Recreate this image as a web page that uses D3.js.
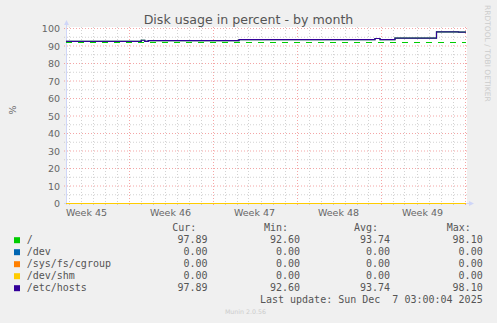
<!DOCTYPE html>
<html>
<head>
<meta charset="utf-8">
<script src="https://cdn.jsdelivr.net/npm/d3@7"></script>
<style>
  body { margin: 0; background: #F0F0F0; }
  text { font-family: "DejaVu Sans", sans-serif; }
  .mono { font-family: "DejaVu Sans Mono", monospace; white-space: pre; }
</style>
</head>
<body>
<div id="chart"></div>
<script>
const W = 497, H = 323;
const plot = { left: 66, right: 466, top: 28, bottom: 203 };

// data
const changeTimes = ["2025-11-03T19:00Z", "2025-11-10T01:30Z", "2025-11-10T08:30Z", "2025-11-10T15:30Z",
    "2025-11-18T05:00Z", "2025-11-29T13:00Z", "2025-11-29T23:00Z", "2025-12-01T05:00Z",
    "2025-12-04T16:00Z", "2025-12-06T12:00Z", "2025-12-07T03:00Z"];
const rootValues = [92.6, 93.3, 92.7, 93.1, 93.7, 94.3, 93.7, 94.5, 98.1, 97.9, 97.9];
const devValues = [0, 0, 0, 0, 0, 0, 0, 0, 0, 0, 0];
const cgroupValues = [0, 0, 0, 0, 0, 0, 0, 0, 0, 0, 0];
const shmValues = [0, 0, 0, 0, 0, 0, 0, 0, 0, 0, 0];
const hostsValues = [92.6, 93.3, 92.7, 93.1, 93.7, 94.3, 93.7, 94.5, 98.1, 97.9, 97.9];
const warningLevel = 92;

const yTicks = [0, 10, 20, 30, 40, 50, 60, 70, 80, 90, 100];
const weekLabels = ["Week 45", "Week 46", "Week 47", "Week 48", "Week 49"];
const weekStarts = ["2025-11-02T00:00Z", "2025-11-09T00:00Z", "2025-11-16T00:00Z", "2025-11-23T00:00Z", "2025-11-30T00:00Z"];

const legendLabels = ["/", "/dev", "/sys/fs/cgroup", "/dev/shm", "/etc/hosts"];
const legendColors = ["#00CC00", "#0066B3", "#FF8000", "#FFCC00", "#330099"];
const curVals = ["97.89", "0.00", "0.00", "0.00", "97.89"];
const minVals = ["92.60", "0.00", "0.00", "0.00", "92.60"];
const avgVals = ["93.74", "0.00", "0.00", "0.00", "93.74"];
const maxVals = ["98.10", "0.00", "0.00", "0.00", "98.10"];

const svg = d3.select("#chart").append("svg")
    .attr("width", W).attr("height", H);

svg.append("rect").attr("width", W).attr("height", H).attr("fill", "#F0F0F0");
svg.append("rect")
    .attr("x", plot.left).attr("y", plot.top - 1)
    .attr("width", plot.right - plot.left + 1).attr("height", plot.bottom - plot.top + 1)
    .attr("fill", "#FFFFFF");

const x = d3.scaleUtc()
    .domain([new Date("2025-11-03T19:00Z"), new Date("2025-12-07T03:00Z")])
    .range([plot.left, plot.right]);
const y = d3.scaleLinear().domain([0, 100]).range([plot.bottom, plot.top]);

const minorStyle = sel => sel.attr("stroke", "#b4b4b4").attr("stroke-opacity", 0.6).attr("stroke-dasharray", "1,2");
const majorStyle = sel => sel.attr("stroke", "#f08080").attr("stroke-opacity", 0.7).attr("stroke-dasharray", "1,2");

// minor grid
const g = svg.append("g");
d3.range(5, 100, 10).forEach(v => {
    g.append("line").attr("x1", plot.left - 2).attr("x2", plot.right + 2)
        .attr("y1", y(v) + 0.5).attr("y2", y(v) + 0.5).call(minorStyle);
});
d3.utcDay.range(x.domain()[0], x.domain()[1]).forEach(d => {
    if (d.getUTCDay() === 0) return;
    g.append("line").attr("x1", Math.round(x(d)) + 0.5).attr("x2", Math.round(x(d)) + 0.5)
        .attr("y1", plot.top - 1).attr("y2", plot.bottom + 2).call(minorStyle);
});
// major grid
yTicks.forEach(v => {
    g.append("line").attr("x1", plot.left - 2).attr("x2", plot.right + 2)
        .attr("y1", y(v) + 0.5).attr("y2", y(v) + 0.5).call(majorStyle);
});
d3.utcSunday.range(x.domain()[0], x.domain()[1]).forEach(d => {
    g.append("line").attr("x1", Math.round(x(d)) + 0.5).attr("x2", Math.round(x(d)) + 0.5)
        .attr("y1", plot.top - 1).attr("y2", plot.bottom + 3).call(majorStyle);
});

// axes
svg.append("line").attr("x1", plot.left + 0.5).attr("x2", plot.left + 0.5)
    .attr("y1", plot.bottom + 2).attr("y2", plot.top - 4).attr("stroke", "#CFD6F8");
svg.append("path").attr("d", `M${plot.left - 2},${plot.top - 3}L${plot.left + 0.5},${plot.top - 8}L${plot.left + 3},${plot.top - 3}Z`)
    .attr("fill", "#CFD6F8");
svg.append("line").attr("x1", plot.left - 2).attr("x2", plot.right + 4)
    .attr("y1", plot.bottom + 0.5).attr("y2", plot.bottom + 0.5).attr("stroke", "#CFD6F8");
svg.append("path").attr("d", `M${plot.right + 3},${plot.bottom - 2}L${plot.right + 8},${plot.bottom + 0.5}L${plot.right + 3},${plot.bottom + 3}Z`)
    .attr("fill", "#CFD6F8");

// y labels
svg.append("g").selectAll("text").data(yTicks).enter().append("text")
    .attr("x", 60).attr("y", d => y(d) + 4)
    .attr("text-anchor", "end").attr("font-size", "9.5px").attr("fill", "#666")
    .text(d => d);

// x labels (centred in the week)
svg.append("g").selectAll("text").data(weekStarts).enter().append("text")
    .attr("x", d => x(d3.utcHour.offset(new Date(d), 84)))
    .attr("y", 216)
    .attr("text-anchor", "middle").attr("font-size", "9.5px").attr("fill", "#666")
    .text((d, i) => weekLabels[i]);

// series
const pts = vals => changeTimes.map((t, i) => ({ t: new Date(t), v: vals[i] }));
const line = d3.line().x(d => x(d.t)).y(d => y(d.v) + 0.5).curve(d3.curveStepAfter);
const series = [rootValues, devValues, cgroupValues, shmValues, hostsValues];
series.forEach((vals, i) => {
    svg.append("path").datum(pts(vals))
        .attr("fill", "none").attr("stroke", legendColors[i]).attr("stroke-width", 1.2)
        .attr("d", line);
});
// warning level
svg.append("line")
    .attr("x1", plot.left).attr("x2", plot.right)
    .attr("y1", y(warningLevel) + 0.5).attr("y2", y(warningLevel) + 0.5)
    .attr("stroke", "#00CC00").attr("stroke-width", 1.2).attr("stroke-dasharray", "6,6");

// title and side texts
svg.append("text").attr("x", 248.5).attr("y", 24.3).attr("text-anchor", "middle")
    .attr("font-size", "12.6px").attr("fill", "#555").text("Disk usage in percent - by month");
svg.append("text").attr("transform", "translate(15.5,110) rotate(-90)")
    .attr("text-anchor", "middle").attr("font-size", "9.5px").attr("fill", "#666").text("%");
svg.append("text").attr("transform", "translate(485,5) rotate(90)")
    .attr("font-size", "7.5px").attr("fill", "#ccc").text("RRDTOOL / TOBI OETIKER");
svg.append("text").attr("x", 245.5).attr("y", 314).attr("text-anchor", "middle")
    .attr("font-size", "6.3px").attr("fill", "#ccc").text("Munin 2.0.56");

// legend
const lg = svg.append("g").attr("font-size", "10px").attr("fill", "#555");
const hdr = [["Cur:", 172.3], ["Min:", 264], ["Avg:", 354], ["Max:", 446.7]];
hdr.forEach(h => lg.append("text").attr("class", "mono").attr("x", h[1]).attr("y", 231.3).text(h[0]));
const cols = [[curVals, 207.5], [minVals, 300], [avgVals, 390], [maxVals, 482.7]];
legendLabels.forEach((lab, i) => {
    const by = 243.2 + i * 12;
    lg.append("rect").attr("x", 14).attr("y", by - 6).attr("width", 6).attr("height", 6)
        .attr("fill", legendColors[i]);
    lg.append("text").attr("class", "mono").attr("x", 26.7).attr("y", by).text(lab);
    cols.forEach(c => lg.append("text").attr("class", "mono").attr("x", c[1]).attr("y", by)
        .attr("text-anchor", "end").text(c[0][i]));
});
lg.append("text").attr("class", "mono").attr("x", 482.7).attr("y", 303.3)
    .attr("text-anchor", "end").text("Last update: Sun Dec  7 03:00:04 2025");
</script>
</body>
</html>
